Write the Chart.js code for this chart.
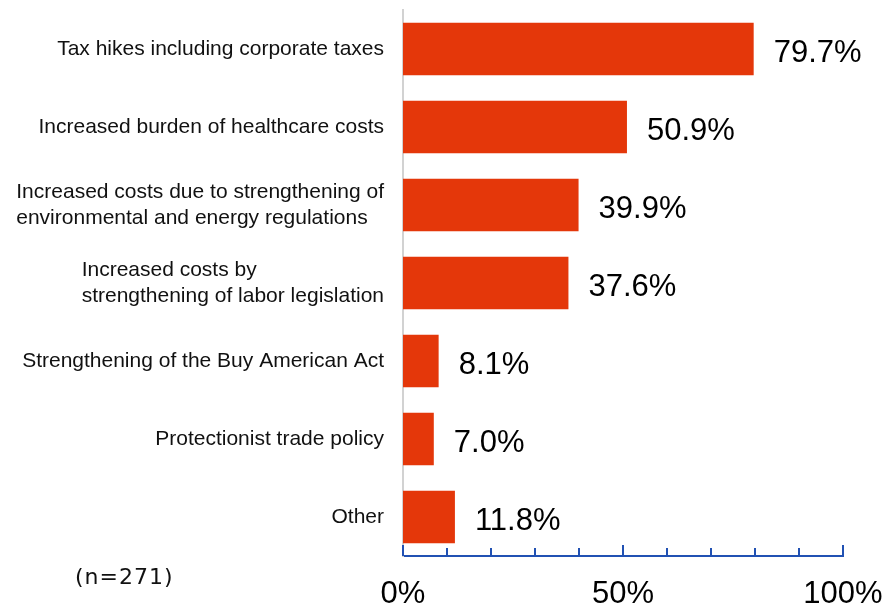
<!DOCTYPE html>
<html lang="en">
<head>
    <meta charset="UTF-8">
    <title>Policy concerns</title>
    <script src="https://cdn.jsdelivr.net/npm/chart.js@4.4.0/dist/chart.umd.min.js"></script>
    <style>
        html, body { margin: 0; padding: 0; background: #fff; }
        #wrap { width: 889px; height: 611px; }
    </style>
</head>
<body>
<div id="wrap"><canvas id="myChart"></canvas></div>
<script>
    // categories (each one is a list of lines) and values in %
    var categories = [
        ['Tax hikes including corporate taxes'],
        ['Increased burden of healthcare costs'],
        ['Increased costs due to strengthening of', 'environmental and energy regulations'],
        ['Increased costs by', 'strengthening of labor legislation'],
        ['Strengthening of the Buy American Act'],
        ['Protectionist trade policy'],
        ['Other']
    ];
    var values = [79.7, 50.9, 39.9, 37.6, 8.1, 7.0, 11.8];
    var xTickLabels = {0: '0%', 50: '50%', 100: '100%'};
    var sampleNote = '(n=271)';

    var barColor = '#e4370a';
    var axisBlue = '#2151b3';

    // category labels: block right aligned, lines left aligned inside it
    var categoryLabels = {
        id: 'categoryLabels',
        afterDraw: function (chart) {
            var ctx = chart.ctx;
            var yScale = chart.scales.y;
            ctx.save();
            ctx.font = '21px "Liberation Sans", Arial, sans-serif';
            ctx.fillStyle = '#111';
            ctx.textBaseline = 'middle';
            ctx.textAlign = 'left';
            var lineH = 26;
            categories.forEach(function (lines, i) {
                var w = 0;
                lines.forEach(function (l) { w = Math.max(w, ctx.measureText(l).width); });
                var left = chart.chartArea.left - 19 - w;
                var cy = yScale.getPixelForValue(i);
                var y0 = cy - (lines.length - 1) * lineH / 2;
                lines.forEach(function (l, j) {
                    ctx.fillText(l, left, y0 + j * lineH);
                });
            });
            ctx.font = '22px "DejaVu Sans", Verdana, sans-serif';
            ctx.letterSpacing = '1px';
            ctx.fillText(sampleNote, 75, 578);
            ctx.restore();
        }
    };

    // value labels to the right of each bar
    var valueLabels = {
        id: 'valueLabels',
        afterDatasetsDraw: function (chart) {
            var ctx = chart.ctx;
            var meta = chart.getDatasetMeta(0);
            ctx.save();
            ctx.font = '31px "Liberation Sans", Arial, sans-serif';
            ctx.fillStyle = '#000';
            ctx.textBaseline = 'middle';
            ctx.textAlign = 'left';
            meta.data.forEach(function (bar, i) {
                ctx.fillText(values[i].toFixed(1) + '%', bar.x + 20, bar.y + 4);
            });
            ctx.restore();
        }
    };

    // tick marks pointing up from the x axis line
    var xTicks = {
        id: 'xTicks',
        afterDraw: function (chart) {
            var ctx = chart.ctx;
            var xScale = chart.scales.x;
            var bottom = chart.chartArea.bottom;
            ctx.save();
            ctx.strokeStyle = axisBlue;
            ctx.lineWidth = 2;
            for (var v = 0; v <= 100; v += 10) {
                var x = xScale.getPixelForValue(v);
                var len = (v % 50 === 0) ? 11 : 8;
                ctx.beginPath();
                ctx.moveTo(x, bottom);
                ctx.lineTo(x, bottom - len);
                ctx.stroke();
            }
            ctx.restore();
        }
    };

    var ctx = document.getElementById('myChart').getContext('2d');
    var chart = new Chart(ctx, {
        type: 'bar',
        data: {
            labels: categories.map(function (c) { return c.join(' '); }),
            datasets: [{
                data: values,
                backgroundColor: barColor,
                borderWidth: 0,
                categoryPercentage: 1,
                barPercentage: 0.67
            }]
        },
        options: {
            indexAxis: 'y',
            responsive: true,
            maintainAspectRatio: false,
            animation: false,
            layout: { padding: { top: 10, right: 46, left: 0, bottom: 0 } },
            plugins: {
                legend: { display: false },
                tooltip: { enabled: false }
            },
            scales: {
                x: {
                    min: 0,
                    max: 100,
                    grid: { display: false, drawTicks: false },
                    border: { display: true, color: axisBlue, width: 2 },
                    ticks: {
                        stepSize: 10,
                        autoSkip: false,
                        maxRotation: 0,
                        padding: 20,
                        color: '#000',
                        font: { family: '"Liberation Sans", Arial, sans-serif', size: 31 },
                        callback: function (v) { return xTickLabels[v] || ''; }
                    },
                    afterFit: function (scale) {
                        scale.height = 55;
                        scale.paddingLeft = 0;
                        scale.paddingRight = 0;
                    }
                },
                y: {
                    grid: { display: false, drawTicks: false },
                    border: { display: true, color: '#d2d2d2', width: 2 },
                    ticks: { display: false },
                    afterFit: function (scale) { scale.width = 403; }
                }
            }
        },
        plugins: [categoryLabels, valueLabels, xTicks]
    });
</script>
</body>
</html>
